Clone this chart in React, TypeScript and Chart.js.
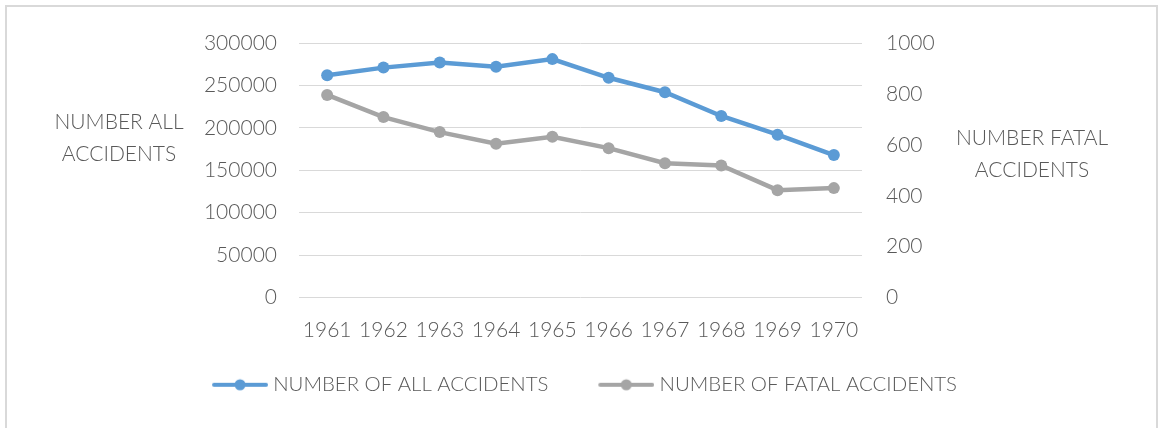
import React, { useEffect, useRef } from "react";
import { Chart, registerables } from "chart.js";

Chart.register(...registerables);

const years = ["1961", "1962", "1963", "1964", "1965", "1966", "1967", "1968", "1969", "1970"];
const allAccidents = [262000, 271000, 277000, 272000, 281000, 259000, 242000, 214000, 192000, 168000];
const fatalAccidents = [796, 709, 650, 604, 632, 587, 528, 519, 422, 430];
const seriesLabels = ["NUMBER OF ALL ACCIDENTS", "NUMBER OF FATAL ACCIDENTS"];
const seriesColors = ["#5b9bd5", "#a5a5a5"];
const leftTitle = ["NUMBER ALL", "ACCIDENTS"];
const rightTitle = ["NUMBER FATAL", "ACCIDENTS"];

const FONT_FAMILY = "Lato, 'Open Sans', sans-serif";
const FONT_SIZE = 21;
const LEGEND_FONT_SIZE = 20.4;
const TEXT_COLOR = "#595959";

function makeIcon(color: string): HTMLCanvasElement {
  const c = document.createElement("canvas");
  c.width = 84;
  c.height = 14;
  const ctx = c.getContext("2d")!;
  ctx.strokeStyle = color;
  ctx.lineWidth = 4;
  ctx.lineCap = "round";
  ctx.beginPath();
  ctx.moveTo(30, 7);
  ctx.lineTo(82, 7);
  ctx.stroke();
  ctx.fillStyle = color;
  ctx.beginPath();
  ctx.arc(56, 7, 5.5, 0, Math.PI * 2);
  ctx.fill();
  return c;
}

const axisTitlesPlugin = {
  id: "axisTitles",
  afterDraw(chart: any) {
    const { ctx, chartArea } = chart;
    const mid = (chartArea.top + chartArea.bottom) / 2;
    ctx.save();
    ctx.font = `300 ${FONT_SIZE}px ${FONT_FAMILY}`;
    ctx.fillStyle = TEXT_COLOR;
    ctx.textAlign = "center";
    ctx.textBaseline = "middle";
    const lx = chartArea.left - 180;
    ctx.fillText(leftTitle[0], lx, mid - 48);
    ctx.fillText(leftTitle[1], lx, mid - 16);
    const rx = chartArea.right + 170;
    ctx.fillText(rightTitle[0], rx, mid - 32);
    ctx.fillText(rightTitle[1], rx, mid);
    ctx.restore();
  },
};

export default function App() {
  const canvasRef = useRef<HTMLCanvasElement | null>(null);

  useEffect(() => {
    if (!canvasRef.current) return;
    const icons = seriesColors.map((c) => makeIcon(c));
    const font = { family: FONT_FAMILY, size: FONT_SIZE, weight: "300" as any };
    const legendFont = { family: FONT_FAMILY, size: LEGEND_FONT_SIZE, weight: "300" as any };
    const chart = new Chart(canvasRef.current, {
      type: "line",
      data: {
        labels: years,
        datasets: [
          {
            label: seriesLabels[0],
            data: allAccidents,
            borderColor: seriesColors[0],
            backgroundColor: seriesColors[0],
            borderWidth: 4.5,
            pointRadius: 6,
            pointHoverRadius: 6,
            pointBorderWidth: 0,
            tension: 0,
            yAxisID: "y",
          },
          {
            label: seriesLabels[1],
            data: fatalAccidents,
            borderColor: seriesColors[1],
            backgroundColor: seriesColors[1],
            borderWidth: 4.5,
            pointRadius: 6,
            pointHoverRadius: 6,
            pointBorderWidth: 0,
            tension: 0,
            yAxisID: "y1",
          },
        ],
      },
      options: {
        animation: false,
        responsive: false,
        maintainAspectRatio: false,
        layout: { padding: { top: 43, bottom: 23, left: 0, right: 18 } },
        plugins: {
          tooltip: { enabled: false },
          legend: {
            position: "bottom",
            labels: {
              usePointStyle: true,
              pointStyleWidth: 74,
              boxHeight: 14,
              padding: 27,
              color: TEXT_COLOR,
              font: legendFont,
              generateLabels: (ch: any) =>
                ch.data.datasets.map((ds: any, i: number) => ({
                  text: ds.label,
                  fillStyle: ds.borderColor,
                  strokeStyle: ds.borderColor,
                  lineWidth: 0,
                  pointStyle: icons[i],
                  hidden: false,
                  datasetIndex: i,
                  fontColor: TEXT_COLOR,
                })),
            },
          },
        },
        scales: {
          x: {
            offset: true,
            grid: { display: false, drawTicks: false },
            border: { display: false },
            ticks: { color: TEXT_COLOR, font, padding: 20, maxRotation: 0, autoSkip: false },
            afterFit: (s: any) => {
              s.height = 50;
            },
          },
          y: {
            position: "left",
            min: 0,
            max: 300000,
            grid: { color: "#d9d9d9", lineWidth: 1, drawTicks: false },
            border: { display: false },
            ticks: { stepSize: 50000, color: TEXT_COLOR, font, padding: 22, callback: (v: any) => String(v) },
            afterFit: (s: any) => {
              s.width = 299;
            },
          },
          y1: {
            position: "right",
            min: 0,
            max: 1000,
            grid: { display: false, drawTicks: false },
            border: { display: false },
            ticks: { stepSize: 200, color: TEXT_COLOR, font, padding: 24, callback: (v: any) => String(v) },
            afterFit: (s: any) => {
              s.width = 284;
            },
          },
        },
      },
      plugins: [axisTitlesPlugin],
    });
    return () => chart.destroy();
  }, []);

  return (
    <div style={{ position: "fixed", left: 0, top: 0, width: 1164, height: 428, background: "#fff", overflow: "hidden" }}>
      <div
        style={{
          position: "absolute",
          left: 5,
          top: 5,
          width: 1153,
          height: 440,
          border: "2px solid #d9d9d9",
          boxSizing: "border-box",
        }}
      />
      <canvas ref={canvasRef} width={1164} height={428} style={{ position: "absolute", left: 0, top: 0, width: 1164, height: 428 }} />
    </div>
  );
}
